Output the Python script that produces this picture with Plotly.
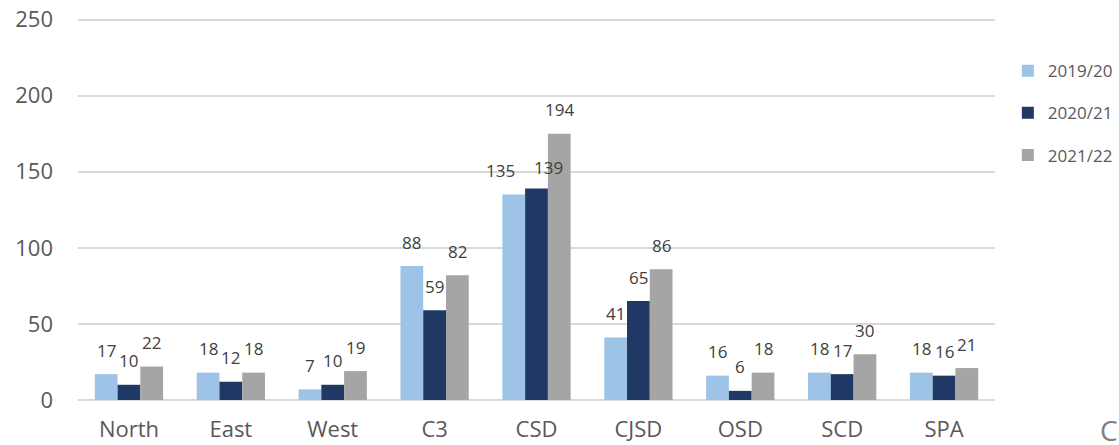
import plotly.graph_objects as go

categories = ["North", "East", "West", "C3", "CSD", "CJSD", "OSD", "SCD", "SPA"]
series_names = ["2019/20", "2020/21", "2021/22"]
values_1920 = [17, 18, 7, 88, 135, 41, 16, 18, 18]
values_2021 = [10, 12, 10, 59, 139, 65, 6, 17, 16]
values_2122 = [22, 18, 19, 82, 175, 86, 18, 30, 21]
labels_1920 = ["17", "18", "7", "88", "135", "41", "16", "18", "18"]
labels_2021 = ["10", "12", "10", "59", "139", "65", "6", "17", "16"]
labels_2122 = ["22", "18", "19", "82", "194", "86", "18", "30", "21"]
colors = ["#9DC3E6", "#203864", "#A5A5A5"]
y_ticks = [0, 50, 100, 150, 200, 250]

FONT = "Open Sans, Liberation Sans, sans-serif"
W, H = 1119, 445
L, R, T, B = 78, 124, 12, 45
BARGAP = 0.33
plot_w = W - L - R
bar_px = plot_w / len(categories) * (1 - BARGAP) / 3
# manual label nudges (series index, category) -> (dx, dy) px, as in the reference
nudges = {(0, "CSD"): (-13, 0), (1, "CSD"): (12, -3)}

all_vals = [values_1920, values_2021, values_2122]
all_labs = [labels_1920, labels_2021, labels_2122]

fig = go.Figure()
annotations = []
for i, (name, vals, labs) in enumerate(zip(series_names, all_vals, all_labs)):
    fig.add_trace(go.Bar(
        x=categories, y=vals, name=name,
        marker=dict(color=colors[i], line=dict(width=0)),
        legendgroup=name, hoverinfo="skip",
    ))
    for cat, v, lab in zip(categories, vals, labs):
        dx, dy = nudges.get((i, cat), (0, 0))
        annotations.append(dict(
            x=cat, y=v, xref="x", yref="y", text=lab, showarrow=False,
            xanchor="center", yanchor="middle",
            xshift=(i - 1) * bar_px + dx, yshift=24 + dy,
            font=dict(size=17, color="#404040", family=FONT)))

annotations.append(dict(text="C", xref="paper", yref="paper", x=1.112, y=-0.078,
                        xanchor="left", yanchor="middle", showarrow=False,
                        font=dict(size=28, color="#7F7F7F", family=FONT)))

fig.update_layout(
    width=W, height=H,
    margin=dict(l=L, r=R, t=T, b=B, autoexpand=False),
    paper_bgcolor="white", plot_bgcolor="white",
    barmode="group", bargap=BARGAP, bargroupgap=0,
    font=dict(family=FONT, color="#595959"),
    showlegend=True,
    legend=dict(x=1.014, y=0.894, xanchor="left", yanchor="top",
                font=dict(size=17, color="#595959", family=FONT),
                tracegroupgap=17, bgcolor="rgba(0,0,0,0)",
                itemwidth=30),
    xaxis=dict(showgrid=False, showline=False, ticks="", automargin=False,
               ticklabelstandoff=14,
               tickfont=dict(size=22, color="#595959", family=FONT)),
    yaxis=dict(range=[0, 255], tickvals=y_ticks, showgrid=True, automargin=False,
               gridcolor="#D9D9D9", gridwidth=1.5, zeroline=True,
               zerolinecolor="#D9D9D9", zerolinewidth=1.5,
               showline=False, ticks="", ticklabelstandoff=24,
               tickfont=dict(size=22, color="#595959", family=FONT)),
    annotations=annotations,
)

fig.write_html("out.html", config={"displayModeBar": False},
               post_script="document.body.style.margin='0';document.body.style.overflow='hidden';")
